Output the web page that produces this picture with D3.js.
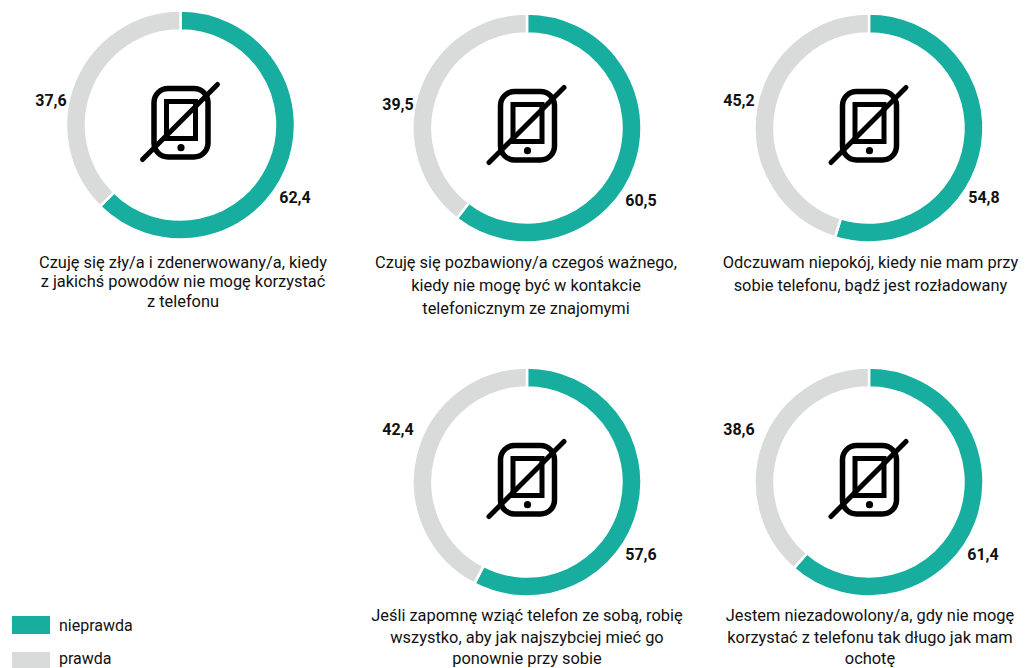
<!DOCTYPE html>
<html><head><meta charset="utf-8">
<script src="https://cdn.jsdelivr.net/npm/d3@7"></script>
<style>html,body{margin:0;padding:0;background:#fff}svg{display:block}text{font-family:Roboto,sans-serif;fill:#111}</style>
</head><body><svg id="c" width="1025" height="668"></svg>
<script>
const seriesNames = ["nieprawda","prawda"];
const colors = ["#17ae9f","#d9dbda"];
const nieprawda = [62.4,60.5,54.8,57.6,61.4];
const prawda = [37.6,39.5,45.2,42.4,38.6];
const captions = [
 ["Czuję się zły/a i zdenerwowany/a, kiedy","z jakichś powodów nie mogę korzystać","z telefonu"],
 ["Czuję się pozbawiony/a czegoś ważnego,","kiedy nie mogę być w kontakcie","telefonicznym ze znajomymi"],
 ["Odczuwam niepokój, kiedy nie mam przy","sobie telefonu, bądź jest rozładowany"],
 ["Jeśli zapomnę wziąć telefon ze sobą, robię","wszystko, aby jak najszybciej mieć go","ponownie przy sobie"],
 ["Jestem niezadowolony/a, gdy nie mogę","korzystać z telefonu tak długo jak mam","ochotę"]
];
const centersX = [180.5,527,869,527,869];
const centersY = [125,128,128,482,482];
const captionY = [267.5,268,268,621,621];
const captionStep = [19.5,23,23,21.5,21.5];
const captionX = [183,526,870.5,527,870];
const labelNie = [[295,197],[641,200],[984,197],[641,554],[983,554]];
const labelPra = [[51,100],[398,104],[739,100],[398,429],[739,429]];

const svg = d3.select("#c");
const pie = d3.pie().sort(null).value(d=>d);
const arc = d3.arc().innerRadius(94.5).outerRadius(114.5);

nieprawda.forEach((v,i)=>{
  const g = svg.append("g").attr("transform",`translate(${centersX[i]},${centersY[i]})`);
  g.selectAll("path.s").data(pie([v,prawda[i]])).join("path").attr("class","s")
    .attr("d",arc).attr("fill",(d,j)=>colors[j]).attr("stroke","#fff").attr("stroke-width",2.5);
  const ic = g.append("g").attr("fill","none").attr("stroke","#000").attr("stroke-linecap","round");
  ic.append("rect").attr("x",-26.5).attr("y",-36.5).attr("width",54).attr("height",68.5).attr("rx",14).attr("stroke-width",5.5);
  ic.append("rect").attr("x",-14).attr("y",-23.5).attr("width",29).attr("height",37).attr("stroke-width",5);
  ic.append("circle").attr("cx",0.5).attr("cy",22.7).attr("r",3.6).attr("fill","#000").attr("stroke","none");
  ic.append("line").attr("x1",-38).attr("y1",34.5).attr("x2",37).attr("y2",-40.5).attr("stroke-width",5);
  svg.append("text").attr("x",labelNie[i][0]).attr("y",labelNie[i][1]).attr("dy","0.35em").attr("text-anchor","middle")
    .attr("font-size",16).attr("font-weight",700).text(String(v).replace(".",","));
  svg.append("text").attr("x",labelPra[i][0]).attr("y",labelPra[i][1]).attr("dy","0.35em").attr("text-anchor","middle")
    .attr("font-size",16).attr("font-weight",700).text(String(prawda[i]).replace(".",","));
  const cap = svg.append("text").attr("text-anchor","middle").attr("font-size",16.4);
  captions[i].forEach((t,k)=>{
    cap.append("tspan").attr("x",captionX[i]).attr("y",captionY[i]+k*captionStep[i]).text(t);
  });
});
const legendY = [625,661];
const legendTextY = [625,658.5];
seriesNames.forEach((n,i)=>{
  svg.append("rect").attr("x",12).attr("y",legendY[i]-9).attr("width",38).attr("height",18).attr("fill",colors[i]);
  svg.append("text").attr("x",59).attr("y",legendTextY[i]).attr("dy","0.35em").attr("font-size",16).text(n);
});
</script></body></html>
